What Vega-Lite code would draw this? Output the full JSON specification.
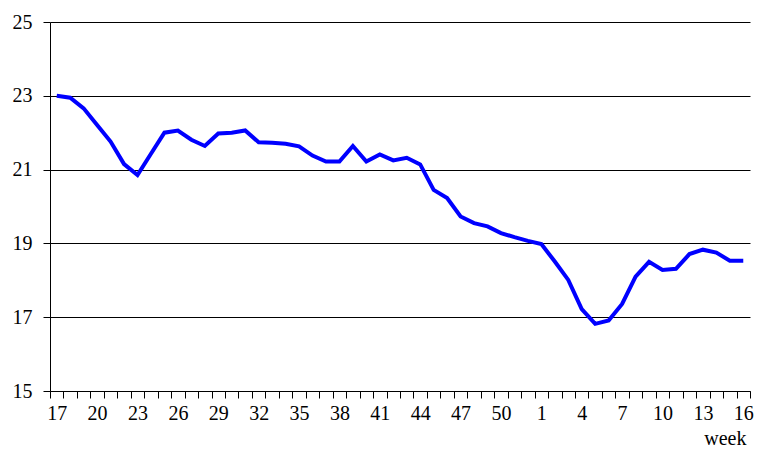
{
  "$schema": "https://vega.github.io/schema/vega-lite/v6.json",
  "autosize": {"type": "none"},
  "width": 700,
  "height": 369,
  "padding": {"left": 50, "top": 22, "right": 18, "bottom": 75},
  "background": "white",
  "config": {
    "view": {"stroke": null},
    "axis": {"labelFont": "Liberation Serif", "titleFont": "Liberation Serif", "labelFontSize": 20, "labelColor": "black", "domainColor": "black", "tickColor": "black", "gridColor": "black"}
  },
  "data": {
    "values": [
      {"week": "17", "value": 23.0},
      {"week": "18", "value": 22.95},
      {"week": "19", "value": 22.66},
      {"week": "20", "value": 22.21},
      {"week": "21", "value": 21.76},
      {"week": "22", "value": 21.15},
      {"week": "23", "value": 20.85},
      {"week": "24", "value": 21.43},
      {"week": "25", "value": 22.0},
      {"week": "26", "value": 22.06},
      {"week": "27", "value": 21.81},
      {"week": "28", "value": 21.64},
      {"week": "29", "value": 21.98},
      {"week": "30", "value": 22.0},
      {"week": "31", "value": 22.06},
      {"week": "32", "value": 21.74},
      {"week": "33", "value": 21.73},
      {"week": "34", "value": 21.7},
      {"week": "35", "value": 21.63},
      {"week": "36", "value": 21.38},
      {"week": "37", "value": 21.22},
      {"week": "38", "value": 21.22},
      {"week": "39", "value": 21.64},
      {"week": "40", "value": 21.22},
      {"week": "41", "value": 21.41},
      {"week": "42", "value": 21.25},
      {"week": "43", "value": 21.32},
      {"week": "44", "value": 21.14},
      {"week": "45", "value": 20.45},
      {"week": "46", "value": 20.23},
      {"week": "47", "value": 19.73},
      {"week": "48", "value": 19.55},
      {"week": "49", "value": 19.46},
      {"week": "50", "value": 19.28},
      {"week": "51", "value": 19.17},
      {"week": "52", "value": 19.07},
      {"week": "1", "value": 18.98},
      {"week": "2", "value": 18.51},
      {"week": "3", "value": 18.01},
      {"week": "4", "value": 17.22},
      {"week": "5", "value": 16.82},
      {"week": "6", "value": 16.91},
      {"week": "7", "value": 17.36},
      {"week": "8", "value": 18.1},
      {"week": "9", "value": 18.5},
      {"week": "10", "value": 18.28},
      {"week": "11", "value": 18.31},
      {"week": "12", "value": 18.71},
      {"week": "13", "value": 18.83},
      {"week": "14", "value": 18.75},
      {"week": "15", "value": 18.53},
      {"week": "16", "value": 18.53}
    ]
  },
  "mark": {"type": "line", "color": "#0000FF", "strokeWidth": 4},
  "encoding": {
    "x": {
      "field": "week",
      "type": "ordinal",
      "sort": null,
      "scale": {"type": "band", "paddingInner": 0, "paddingOuter": 0},
      "axis": {
        "title": "week",
        "titleFontSize": 20,
        "titleFontWeight": "normal",
        "titleColor": "black",
        "titleAlign": "right",
        "titleAnchor": null,
        "titleX": 696,
        "titleY": 53,
        "titleBaseline": "alphabetic",
        "labelAngle": 0,
        "labelOverlap": false,
        "labelExpr": "test(/^(17|20|23|26|29|32|35|38|41|44|47|50|1|4|7|10|13|16)$/, datum.label) ? datum.label : ''",
        "tickBand": "extent",
        "tickSize": 7,
        "labelPadding": 5,
        "grid": false
      }
    },
    "y": {
      "field": "value",
      "type": "quantitative",
      "scale": {"domain": [15, 25], "nice": false, "zero": false},
      "axis": {
        "title": null,
        "values": [15, 17, 19, 21, 23, 25],
        "grid": true,
        "gridOpacity": 1,
        "tickSize": 7,
        "labelPadding": 11
      }
    }
  }
}
